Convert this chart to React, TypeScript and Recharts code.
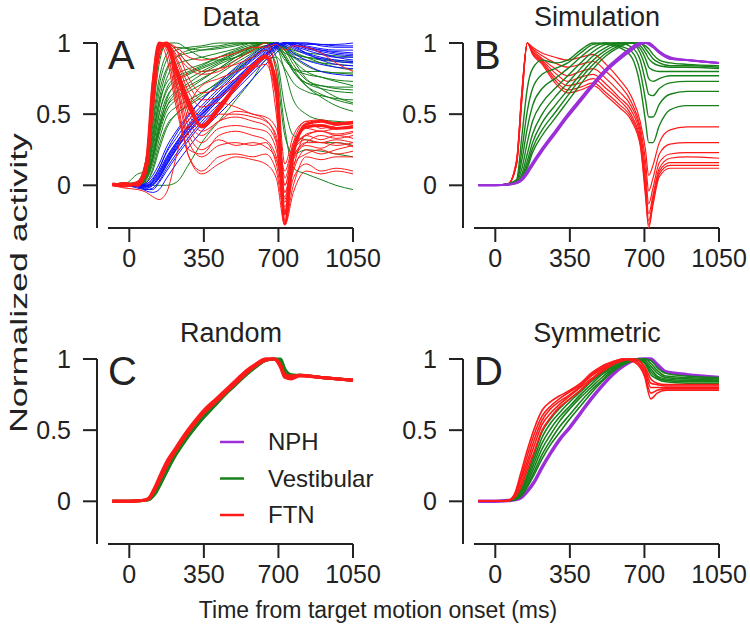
import React from 'react';
import { LineChart, Line, XAxis, YAxis, ReferenceLine } from 'recharts';

const RED = '#ff1a1a';
const GREEN = '#17801a';
const BLUE = '#1010ff';
const PURPLE = '#9b30d9';
const INK = '#222';
const FONT = '"Liberation Sans", Arial, Helvetica, sans-serif';

const X_TICKS = [0, 350, 700, 1050];
const Y_TICKS = [0, 0.5, 1];

// A: recorded neurons
const TIME_A = [-80, -20, 40, 80, 110, 140, 175, 220, 280, 340, 420, 500, 580, 640, 690, 730, 770, 830, 900, 970, 1050];

const DATA_RED_MAIN = [
  [0, 0.01, 0, 0.12, 0.62, 0.97, 1, 0.82, 0.59, 0.41, 0.53, 0.69, 0.83, 0.9, 0.72, -0.27, 0.25, 0.41, 0.42, 0.4, 0.41],
  [0.01, 0, 0.02, 0.16, 0.7, 1, 0.98, 0.8, 0.55, 0.42, 0.55, 0.7, 0.84, 0.91, 0.66, -0.2, 0.22, 0.43, 0.45, 0.43, 0.44],
];

const DATA_RED = [
  [0, -0.01, 0.01, 0.1, 0.6, 0.95, 1, 0.9, 0.7, 0.6, 0.62, 0.72, 0.85, 0.9, 0.5, -0.1, 0.25, 0.35, 0.38, 0.36, 0.38],
  [0, 0.02, 0, 0.12, 0.65, 0.97, 1, 0.95, 0.85, 0.8, 0.82, 0.85, 0.9, 0.95, 0.7, 0.05, 0.3, 0.45, 0.4, 0.42, 0.44],
  [0, 0, 0.01, 0.08, 0.5, 0.9, 1, 0.97, 0.9, 0.88, 0.9, 0.93, 0.97, 0.97, 0.99, 0.95, 0.98, 0.97, 0.93, 0.86, 0.8],
  [0, -0.01, 0.01, 0.15, 0.7, 1, 0.95, 0.6, 0.2, 0.1, 0.2, 0.22, 0.2, 0.22, 0.1, -0.2, 0.05, 0.15, 0.1, 0.12, 0.1],
  [0, 0.01, 0, 0.1, 0.6, 0.95, 1, 0.7, 0.3, 0.2, 0.28, 0.3, 0.28, 0.3, 0.15, -0.15, 0.1, 0.25, 0.22, 0.25, 0.28],
  [0, 0, 0.02, 0.2, 0.75, 1, 0.9, 0.55, 0.25, 0.22, 0.35, 0.38, 0.35, 0.32, 0.2, -0.05, 0.2, 0.3, 0.3, 0.28, 0.3],
  [0.01, 0, 0.01, 0.12, 0.65, 0.98, 1, 0.8, 0.45, 0.35, 0.45, 0.48, 0.45, 0.42, 0.3, -0.25, 0, 0.2, 0.18, 0.2, 0.2],
  [0, 0, 0, 0.1, 0.55, 0.92, 1, 0.85, 0.6, 0.48, 0.5, 0.5, 0.48, 0.45, 0.35, 0, 0.25, 0.32, 0.3, 0.32, 0.3],
  [0, 0.01, 0.02, 0.18, 0.72, 1, 0.98, 0.75, 0.4, 0.3, 0.4, 0.42, 0.4, 0.38, 0.25, -0.12, 0.15, 0.22, 0.25, 0.22, 0.24],
  [0, 0, 0.01, 0.14, 0.66, 0.97, 1, 0.92, 0.82, 0.78, 0.8, 0.88, 0.95, 1, 0.8, 0.15, 0.35, 0.45, 0.46, 0.44, 0.45],
  [0, -0.02, -0.03, -0.05, -0.08, -0.1, -0.05, 0.2, 0.55, 0.7, 0.75, 0.8, 0.85, 0.9, 0.7, 0, 0.25, 0.35, 0.32, 0.35, 0.33],
  [0, 0, 0, 0.12, 0.6, 0.96, 1, 0.65, 0.2, 0.08, 0.15, 0.2, 0.18, 0.15, 0.05, -0.28, -0.05, 0.1, 0.08, 0.1, 0.08],
  [0.01, 0, 0.01, 0.16, 0.68, 0.99, 1, 0.88, 0.65, 0.55, 0.58, 0.55, 0.5, 0.48, 0.4, 0.1, 0.3, 0.4, 0.38, 0.4, 0.42],
  [0, 0, 0.02, 0.1, 0.5, 0.9, 1, 0.95, 0.75, 0.65, 0.68, 0.75, 0.82, 0.85, 0.6, -0.05, 0.2, 0.3, 0.35, 0.33, 0.35],
  [0, 0, 0.01, 0.13, 0.64, 0.97, 1, 0.78, 0.5, 0.38, 0.45, 0.52, 0.5, 0.46, 0.32, -0.18, 0.12, 0.36, 0.38, 0.35, 0.37],
  [0, 0.01, 0, 0.11, 0.58, 0.94, 1, 0.72, 0.35, 0.25, 0.32, 0.28, 0.3, 0.27, 0.18, -0.08, 0.18, 0.28, 0.26, 0.3, 0.27],
];

const DATA_GREEN = [
  [0, 0, 0.01, 0.1, 0.35, 0.6, 0.8, 0.9, 0.95, 0.97, 0.98, 1, 1, 1, 0.98, 0.93, 0.9, 0.88, 0.86, 0.85, 0.84],
  [0, 0.01, 0, 0.05, 0.2, 0.4, 0.55, 0.62, 0.68, 0.74, 0.82, 0.9, 0.97, 1, 1, 0.95, 0.88, 0.8, 0.76, 0.73, 0.7],
  [0, 0, 0.02, 0.08, 0.3, 0.55, 0.75, 0.85, 0.88, 0.9, 0.93, 0.96, 1, 1, 0.97, 0.9, 0.8, 0.72, 0.68, 0.66, 0.65],
  [0, -0.01, 0, 0.04, 0.15, 0.32, 0.48, 0.55, 0.6, 0.65, 0.72, 0.8, 0.9, 0.97, 1, 0.97, 0.88, 0.75, 0.68, 0.62, 0.58],
  [0, 0, 0.02, 0.15, 0.5, 0.85, 1, 0.95, 0.85, 0.8, 0.82, 0.88, 0.95, 1, 1, 0.96, 0.92, 0.9, 0.88, 0.87, 0.86],
  [0, 0.01, 0.08, 0.1, 0.2, 0.4, 0.6, 0.72, 0.78, 0.82, 0.87, 0.93, 0.98, 1, 1, 0.92, 0.82, 0.7, 0.62, 0.56, 0.52],
  [0, 0, 0.01, 0.03, 0.1, 0.25, 0.4, 0.5, 0.56, 0.62, 0.7, 0.8, 0.9, 0.95, 0.85, 0.4, 0.12, 0.08, 0.04, 0, -0.03],
  [0, 0, 0.02, 0.05, 0.18, 0.38, 0.55, 0.65, 0.72, 0.78, 0.85, 0.9, 0.95, 0.98, 0.8, 0.35, 0.22, 0.25, 0.24, 0.22, 0.2],
  [0, 0.01, 0, 0.06, 0.22, 0.45, 0.62, 0.7, 0.75, 0.8, 0.86, 0.92, 0.97, 1, 0.9, 0.55, 0.35, 0.32, 0.3, 0.3, 0.28],
  [0, 0, 0.01, 0.12, 0.42, 0.7, 0.88, 0.95, 0.97, 0.98, 1, 1, 1, 1, 1, 0.98, 0.95, 0.93, 0.92, 0.91, 0.9],
  [0, 0, 0, 0.07, 0.25, 0.5, 0.68, 0.76, 0.8, 0.84, 0.9, 0.95, 0.99, 1, 0.98, 0.9, 0.8, 0.7, 0.64, 0.6, 0.57],
  [0, 0.02, 0.01, 0.02, 0.12, 0.28, 0.42, 0.5, 0.57, 0.64, 0.73, 0.82, 0.91, 0.97, 1, 0.95, 0.85, 0.74, 0.7, 0.68, 0.67],
  [0, 0, 0.01, 0.1, 0.38, 0.65, 0.82, 0.9, 0.93, 0.95, 0.97, 0.99, 1, 1, 0.99, 0.9, 0.82, 0.78, 0.76, 0.74, 0.73],
  [0, 0, 0.01, 0.09, 0.33, 0.58, 0.72, 0.78, 0.82, 0.85, 0.9, 0.94, 0.98, 1, 0.99, 0.95, 0.9, 0.84, 0.8, 0.79, 0.78],
  [0, 0.01, 0.02, 0.06, 0.2, 0.42, 0.58, 0.66, 0.7, 0.75, 0.82, 0.9, 0.96, 1, 0.97, 0.8, 0.6, 0.5, 0.46, 0.45, 0.44],
  [0, 0, 0.03, 0.2, 0.6, 0.9, 1, 1, 0.95, 0.9, 0.88, 0.9, 0.94, 0.98, 0.96, 0.88, 0.82, 0.8, 0.8, 0.79, 0.79],
  [0, 0, 0, 0, 0, 0, 0, 0.02, 0.15, 0.3, 0.45, 0.6, 0.75, 0.88, 0.9, 0.82, 0.72, 0.66, 0.63, 0.61, 0.6],
  [0, 0, 0.01, 0.08, 0.28, 0.5, 0.66, 0.74, 0.79, 0.83, 0.88, 0.93, 0.97, 1, 1, 0.97, 0.93, 0.9, 0.89, 0.88, 0.87],
  [0, 0.01, 0.02, 0.12, 0.45, 0.75, 0.92, 0.97, 0.96, 0.95, 0.96, 0.98, 1, 1, 0.98, 0.9, 0.8, 0.72, 0.7, 0.69, 0.69],
  [0, 0, 0, 0.05, 0.18, 0.36, 0.52, 0.6, 0.66, 0.71, 0.78, 0.86, 0.93, 0.98, 1, 0.98, 0.94, 0.9, 0.86, 0.83, 0.81],
];

const DATA_BLUE = [
  [0, 0, -0.01, -0.02, 0, 0.05, 0.14, 0.25, 0.37, 0.47, 0.6, 0.71, 0.82, 0.91, 0.97, 1, 0.99, 0.97, 0.95, 0.94, 0.93],
  [0, 0, 0, -0.03, -0.03, 0.02, 0.1, 0.2, 0.32, 0.43, 0.55, 0.67, 0.79, 0.88, 0.95, 1, 1, 0.97, 0.93, 0.9, 0.88],
  [0, 0.01, 0, 0, 0.03, 0.1, 0.2, 0.3, 0.42, 0.52, 0.64, 0.75, 0.86, 0.94, 0.99, 1, 0.97, 0.93, 0.9, 0.88, 0.87],
  [0, 0, -0.01, -0.04, -0.05, -0.03, 0.05, 0.15, 0.27, 0.38, 0.5, 0.62, 0.75, 0.85, 0.93, 0.99, 1, 1, 0.99, 0.98, 0.98],
  [0, 0, 0, 0.02, 0.07, 0.15, 0.27, 0.38, 0.5, 0.6, 0.71, 0.81, 0.9, 0.97, 1, 0.98, 0.93, 0.88, 0.85, 0.83, 0.82],
  [0, 0, 0, -0.01, 0.01, 0.06, 0.16, 0.27, 0.4, 0.5, 0.62, 0.74, 0.85, 0.92, 0.98, 1, 0.98, 0.95, 0.92, 0.9, 0.9],
  [0, 0, -0.02, -0.03, -0.02, 0.03, 0.12, 0.22, 0.34, 0.45, 0.57, 0.69, 0.81, 0.9, 0.96, 1, 1, 0.98, 0.96, 0.95, 0.95],
  [0, 0.01, 0, 0.01, 0.05, 0.12, 0.23, 0.33, 0.46, 0.56, 0.68, 0.79, 0.89, 0.96, 1, 0.97, 0.91, 0.85, 0.8, 0.78, 0.77],
  [0, 0, 0, 0, 0.02, 0.08, 0.18, 0.29, 0.41, 0.51, 0.63, 0.75, 0.86, 0.93, 0.98, 1, 0.98, 0.93, 0.88, 0.85, 0.84],
  [0, 0, -0.01, -0.02, 0, 0.05, 0.15, 0.25, 0.38, 0.49, 0.61, 0.73, 0.84, 0.92, 0.98, 1, 1, 1, 0.98, 0.97, 0.97],
  [0, 0, 0, 0.01, 0.04, 0.12, 0.24, 0.36, 0.49, 0.6, 0.72, 0.83, 0.92, 0.98, 1, 0.99, 0.96, 0.92, 0.89, 0.87, 0.86],
  [0, 0, 0, -0.01, 0.02, 0.07, 0.17, 0.28, 0.4, 0.5, 0.62, 0.73, 0.84, 0.92, 0.98, 1, 0.99, 0.97, 0.95, 0.93, 0.92],
  [0, 0, 0, 0, 0.03, 0.09, 0.19, 0.3, 0.43, 0.54, 0.66, 0.78, 0.88, 0.95, 0.99, 1, 1, 0.99, 0.99, 0.99, 1],
  [0, 0, -0.01, -0.01, 0.01, 0.06, 0.15, 0.26, 0.38, 0.48, 0.6, 0.72, 0.83, 0.91, 0.97, 1, 0.99, 0.96, 0.94, 0.92, 0.91],
];

// B: simulation
const TIME_B = [-80, 0, 60, 100, 125, 150, 175, 220, 280, 340, 400, 460, 520, 580, 640, 680, 705, 720, 740, 770, 820, 900, 1050];

const SIM_RED = [
  [0, 0, 0.01, 0.15, 0.6, 1, 0.97, 0.93, 0.9, 0.88, 0.9, 0.92, 0.85, 0.75, 0.62, 0.45, 0.25, 0.07, 0.14, 0.3, 0.39, 0.41, 0.41],
  [0, 0, 0.01, 0.15, 0.62, 1, 0.96, 0.91, 0.86, 0.83, 0.85, 0.87, 0.8, 0.71, 0.58, 0.41, 0.17, -0.04, 0.05, 0.22, 0.29, 0.3, 0.3],
  [0, 0, 0.01, 0.16, 0.63, 1, 0.95, 0.89, 0.82, 0.77, 0.8, 0.82, 0.75, 0.66, 0.55, 0.38, 0.1, -0.13, -0.02, 0.16, 0.22, 0.23, 0.23],
  [0, 0, 0.01, 0.16, 0.64, 1, 0.94, 0.88, 0.79, 0.73, 0.76, 0.78, 0.71, 0.62, 0.52, 0.35, 0.04, -0.2, -0.07, 0.12, 0.19, 0.2, 0.19],
  [0, 0, 0.01, 0.17, 0.65, 1, 0.93, 0.87, 0.76, 0.7, 0.72, 0.75, 0.68, 0.6, 0.49, 0.32, -0.01, -0.25, -0.1, 0.1, 0.16, 0.16, 0.16],
  [0, 0, 0.01, 0.17, 0.66, 1, 0.93, 0.86, 0.74, 0.67, 0.69, 0.72, 0.65, 0.57, 0.47, 0.3, -0.05, -0.28, -0.12, 0.08, 0.14, 0.14, 0.14],
  [0, 0, 0.01, 0.18, 0.67, 1, 0.92, 0.85, 0.72, 0.65, 0.67, 0.7, 0.63, 0.55, 0.45, 0.28, -0.08, -0.3, -0.14, 0.06, 0.12, 0.12, 0.12],
];

const SIM_GREEN = [
  [0, 0, 0.01, 0.04, 0.35, 0.68, 0.82, 0.88, 0.86, 0.88, 0.95, 1, 0.99, 0.97, 0.9, 0.7, 0.45, 0.3, 0.3, 0.42, 0.53, 0.56, 0.56],
  [0, 0, 0.01, 0.03, 0.25, 0.52, 0.68, 0.78, 0.82, 0.86, 0.93, 0.99, 1, 0.98, 0.94, 0.8, 0.6, 0.48, 0.48, 0.57, 0.64, 0.66, 0.66],
  [0, 0, 0.01, 0.03, 0.18, 0.4, 0.56, 0.68, 0.75, 0.82, 0.9, 0.97, 1, 1, 0.97, 0.88, 0.73, 0.64, 0.63, 0.68, 0.72, 0.73, 0.73],
  [0, 0, 0.005, 0.02, 0.12, 0.3, 0.45, 0.58, 0.68, 0.77, 0.86, 0.94, 0.99, 1, 1, 0.93, 0.83, 0.75, 0.73, 0.75, 0.77, 0.77, 0.77],
  [0, 0, 0.005, 0.02, 0.08, 0.22, 0.36, 0.5, 0.62, 0.72, 0.82, 0.91, 0.97, 1, 1, 0.96, 0.89, 0.83, 0.81, 0.8, 0.8, 0.8, 0.8],
  [0, 0, 0.005, 0.02, 0.06, 0.17, 0.3, 0.44, 0.56, 0.67, 0.78, 0.88, 0.95, 0.99, 1, 0.98, 0.93, 0.89, 0.86, 0.84, 0.83, 0.83, 0.82],
  [0, 0, 0.005, 0.02, 0.05, 0.14, 0.26, 0.39, 0.51, 0.63, 0.75, 0.85, 0.93, 0.98, 1, 1, 0.96, 0.93, 0.89, 0.86, 0.84, 0.84, 0.83],
  [0, 0, 0.005, 0.02, 0.04, 0.12, 0.23, 0.35, 0.47, 0.59, 0.71, 0.82, 0.91, 0.97, 1, 1, 0.98, 0.96, 0.92, 0.88, 0.86, 0.85, 0.84],
];

const SIM_PURPLE = [
  [0, 0, 0.005, 0.02, 0.05, 0.1, 0.16, 0.26, 0.38, 0.5, 0.61, 0.72, 0.82, 0.9, 0.97, 1, 1, 0.99, 0.97, 0.93, 0.89, 0.88, 0.86],
  [0, 0, 0.005, 0.015, 0.04, 0.09, 0.15, 0.25, 0.37, 0.49, 0.6, 0.71, 0.81, 0.89, 0.96, 0.99, 1, 1, 0.98, 0.94, 0.89, 0.88, 0.86],
  [0, 0, 0.005, 0.015, 0.035, 0.08, 0.14, 0.24, 0.36, 0.48, 0.59, 0.7, 0.8, 0.88, 0.95, 0.99, 1, 1, 0.98, 0.94, 0.9, 0.88, 0.86],
];

// C: random connectivity
const TIME_C = [-80, 0, 60, 90, 120, 150, 180, 220, 260, 300, 350, 400, 450, 500, 550, 600, 640, 680, 710, 730, 760, 800, 900, 1050];

const RAND_RED = [
  [0, 0, 0.005, 0.02, 0.09, 0.18, 0.27, 0.37, 0.46, 0.54, 0.63, 0.7, 0.77, 0.84, 0.91, 0.97, 1, 1, 0.95, 0.88, 0.87, 0.885, 0.87, 0.85],
  [0, 0, 0.005, 0.02, 0.1, 0.2, 0.29, 0.38, 0.47, 0.55, 0.64, 0.71, 0.78, 0.85, 0.92, 0.97, 1, 1, 0.94, 0.87, 0.86, 0.88, 0.87, 0.85],
  [0, 0, 0.005, 0.015, 0.08, 0.17, 0.26, 0.36, 0.45, 0.53, 0.62, 0.69, 0.76, 0.83, 0.9, 0.96, 0.99, 1, 0.96, 0.89, 0.88, 0.885, 0.87, 0.85],
];

const RAND_GREEN = [
  [0, 0, 0.005, 0.01, 0.05, 0.13, 0.22, 0.33, 0.42, 0.5, 0.59, 0.67, 0.75, 0.82, 0.89, 0.95, 0.99, 1, 1, 0.93, 0.89, 0.885, 0.87, 0.85],
  [0, 0, 0.005, 0.01, 0.06, 0.15, 0.24, 0.34, 0.43, 0.51, 0.6, 0.68, 0.76, 0.83, 0.9, 0.96, 0.99, 1, 0.98, 0.91, 0.88, 0.885, 0.87, 0.85],
];

const RAND_PURPLE = [
  [0, 0, 0.005, 0.01, 0.05, 0.13, 0.22, 0.33, 0.42, 0.5, 0.59, 0.67, 0.75, 0.82, 0.89, 0.95, 0.99, 1, 1, 0.93, 0.89, 0.885, 0.87, 0.85],
];

// D: symmetric connectivity
const TIME_D = [-80, 0, 60, 90, 120, 150, 180, 220, 260, 300, 350, 400, 450, 500, 550, 600, 650, 700, 730, 760, 800, 900, 1050];

const SYM_RED = [
  [0, 0, 0.005, 0.05, 0.2, 0.36, 0.5, 0.64, 0.7, 0.74, 0.78, 0.83, 0.9, 0.95, 0.98, 1, 0.98, 0.88, 0.72, 0.76, 0.78, 0.78, 0.78],
  [0, 0, 0.005, 0.045, 0.17, 0.32, 0.46, 0.6, 0.67, 0.72, 0.77, 0.82, 0.89, 0.94, 0.98, 1, 0.99, 0.9, 0.76, 0.78, 0.79, 0.79, 0.79],
  [0, 0, 0.005, 0.04, 0.15, 0.28, 0.42, 0.57, 0.65, 0.7, 0.75, 0.81, 0.88, 0.93, 0.97, 1, 0.99, 0.92, 0.8, 0.8, 0.8, 0.8, 0.8],
  [0, 0, 0.005, 0.03, 0.12, 0.25, 0.38, 0.54, 0.62, 0.68, 0.74, 0.8, 0.86, 0.92, 0.97, 0.99, 1, 0.94, 0.83, 0.82, 0.81, 0.81, 0.81],
  [0, 0, 0.005, 0.025, 0.1, 0.22, 0.34, 0.5, 0.59, 0.66, 0.72, 0.78, 0.85, 0.91, 0.96, 0.99, 1, 0.95, 0.86, 0.83, 0.82, 0.82, 0.82],
];

const SYM_GREEN = [
  [0, 0, 0.005, 0.02, 0.08, 0.19, 0.32, 0.49, 0.58, 0.65, 0.72, 0.78, 0.85, 0.91, 0.96, 0.99, 1, 0.97, 0.89, 0.86, 0.84, 0.83, 0.83],
  [0, 0, 0.005, 0.018, 0.07, 0.17, 0.29, 0.45, 0.55, 0.62, 0.7, 0.77, 0.84, 0.9, 0.95, 0.99, 1, 0.98, 0.91, 0.87, 0.85, 0.84, 0.84],
  [0, 0, 0.005, 0.015, 0.06, 0.15, 0.26, 0.41, 0.51, 0.59, 0.67, 0.75, 0.82, 0.89, 0.94, 0.98, 1, 0.98, 0.93, 0.88, 0.86, 0.85, 0.85],
  [0, 0, 0.005, 0.013, 0.05, 0.13, 0.23, 0.37, 0.47, 0.56, 0.65, 0.73, 0.8, 0.87, 0.93, 0.97, 1, 0.99, 0.95, 0.9, 0.87, 0.86, 0.85],
  [0, 0, 0.005, 0.011, 0.04, 0.11, 0.2, 0.33, 0.43, 0.52, 0.61, 0.7, 0.78, 0.85, 0.92, 0.97, 0.99, 1, 0.97, 0.92, 0.88, 0.87, 0.86],
  [0, 0, 0.005, 0.01, 0.035, 0.1, 0.18, 0.3, 0.4, 0.48, 0.58, 0.67, 0.76, 0.84, 0.91, 0.96, 0.99, 1, 0.99, 0.94, 0.9, 0.88, 0.87],
];

const SYM_PURPLE = [
  [0, 0, 0.005, 0.01, 0.025, 0.07, 0.13, 0.24, 0.34, 0.43, 0.52, 0.62, 0.72, 0.81, 0.89, 0.95, 0.99, 1, 1, 0.96, 0.91, 0.89, 0.87],
];

const LEGEND = [
  { label: 'NPH', color: PURPLE },
  { label: 'Vestibular', color: GREEN },
  { label: 'FTN', color: RED },
];

type Group = { color: string; width: number; lines: number[][] };

type PanelProps = {
  left: number;
  top: number;
  title: string;
  letter: string;
  times: number[];
  groups: Group[];
  legend?: boolean;
};

const BOX_W = 395;
const BOX_H = 290;

const axisStyle = { stroke: INK, strokeWidth: 2 };
const tickStyle = { fill: INK, fontSize: 25, fontFamily: FONT };

const Panel = ({ left, top, title, letter, times, groups, legend }: PanelProps) => {
  const series = groups.flatMap((g) => g.lines.map((values) => ({ color: g.color, width: g.width, values })));
  const rows = times.map((t, i) => {
    const row: Record<string, number> = { t };
    series.forEach((s, j) => {
      row['s' + j] = s.values[i];
    });
    return row;
  });

  return (
    <div style={{ position: 'absolute', left, top, width: BOX_W, height: BOX_H }}>
      <LineChart width={BOX_W} height={BOX_H} data={rows} margin={{ top: 43, right: BOX_W - 353, bottom: 22, left: 0 }}>
        <XAxis
          dataKey="t"
          type="number"
          domain={[-100, 1050]}
          ticks={X_TICKS}
          padding={{ left: 11, right: 0 }}
          axisLine={false}
          tickLine={axisStyle}
          tickSize={14}
          tickMargin={7}
          tick={tickStyle}
          height={40}
        />
        <YAxis
          type="number"
          domain={[-0.3, 1]}
          ticks={Y_TICKS}
          width={97}
          axisLine={axisStyle}
          tickLine={axisStyle}
          tickSize={14}
          tickMargin={12}
          tick={tickStyle}
        />
        <ReferenceLine
          segment={[{ x: -100, y: -0.3 }, { x: 1050, y: -0.3 }]}
          stroke={INK}
          strokeWidth={2}
          ifOverflow="visible"
        />
        {series.map((s, j) => (
          <Line
            key={j}
            dataKey={'s' + j}
            type="monotone"
            stroke={s.color}
            strokeWidth={s.width}
            dot={false}
            activeDot={false}
            isAnimationActive={false}
          />
        ))}
      </LineChart>
      <svg width={BOX_W} height={BOX_H} style={{ position: 'absolute', left: 0, top: 0, pointerEvents: 'none' }}>
        <text x={231} y={26} textAnchor="middle" fontSize={27} fontFamily={FONT} fill={INK}>
          {title}
        </text>
        <text x={108} y={69} fontSize={40} fontFamily={FONT} fill={INK}>
          {letter}
        </text>
        {legend &&
          LEGEND.map((item, i) => (
            <g key={item.label}>
              <line x1={220} x2={244} y1={126 + i * 36.5} y2={126 + i * 36.5} stroke={item.color} strokeWidth={2.5} />
              <text x={268} y={126 + i * 36.5} dy="0.35em" fontSize={24} fontFamily={FONT} fill={INK}>
                {item.label}
              </text>
            </g>
          ))}
      </svg>
    </div>
  );
};

export default function App() {
  return (
    <div style={{ position: 'absolute', left: 0, top: 0, width: 750, height: 634, background: '#fff', overflow: 'hidden' }}>
      <Panel
        left={0}
        top={0}
        title="Data"
        letter="A"
        times={TIME_A}
        groups={[
          { color: GREEN, width: 1, lines: DATA_GREEN },
          { color: BLUE, width: 1, lines: DATA_BLUE },
          { color: RED, width: 1, lines: DATA_RED },
          { color: RED, width: 3, lines: DATA_RED_MAIN },
        ]}
      />
      <Panel
        left={366}
        top={0}
        title="Simulation"
        letter="B"
        times={TIME_B}
        groups={[
          { color: RED, width: 1.2, lines: SIM_RED },
          { color: GREEN, width: 1.4, lines: SIM_GREEN },
          { color: PURPLE, width: 2, lines: SIM_PURPLE },
        ]}
      />
      <Panel
        left={0}
        top={316}
        title="Random"
        letter="C"
        times={TIME_C}
        legend
        groups={[
          { color: PURPLE, width: 2, lines: RAND_PURPLE },
          { color: GREEN, width: 3, lines: RAND_GREEN },
          { color: RED, width: 3, lines: RAND_RED },
        ]}
      />
      <Panel
        left={366}
        top={316}
        title="Symmetric"
        letter="D"
        times={TIME_D}
        groups={[
          { color: PURPLE, width: 3.5, lines: SYM_PURPLE },
          { color: GREEN, width: 1.6, lines: SYM_GREEN },
          { color: RED, width: 1.6, lines: SYM_RED },
        ]}
      />
      <svg width={750} height={634} style={{ position: 'absolute', left: 0, top: 0, pointerEvents: 'none' }}>
        <text
          x={27}
          y={283}
          transform="rotate(-90 27 283)"
          textAnchor="middle"
          fontSize={24}
          textLength={300}
          lengthAdjust="spacingAndGlyphs"
          fontFamily={FONT}
          fill={INK}
        >
          Normalized activity
        </text>
        <text x={378} y={618} textAnchor="middle" fontSize={23} fontFamily={FONT} fill={INK}>
          Time from target motion onset (ms)
        </text>
      </svg>
    </div>
  );
}
